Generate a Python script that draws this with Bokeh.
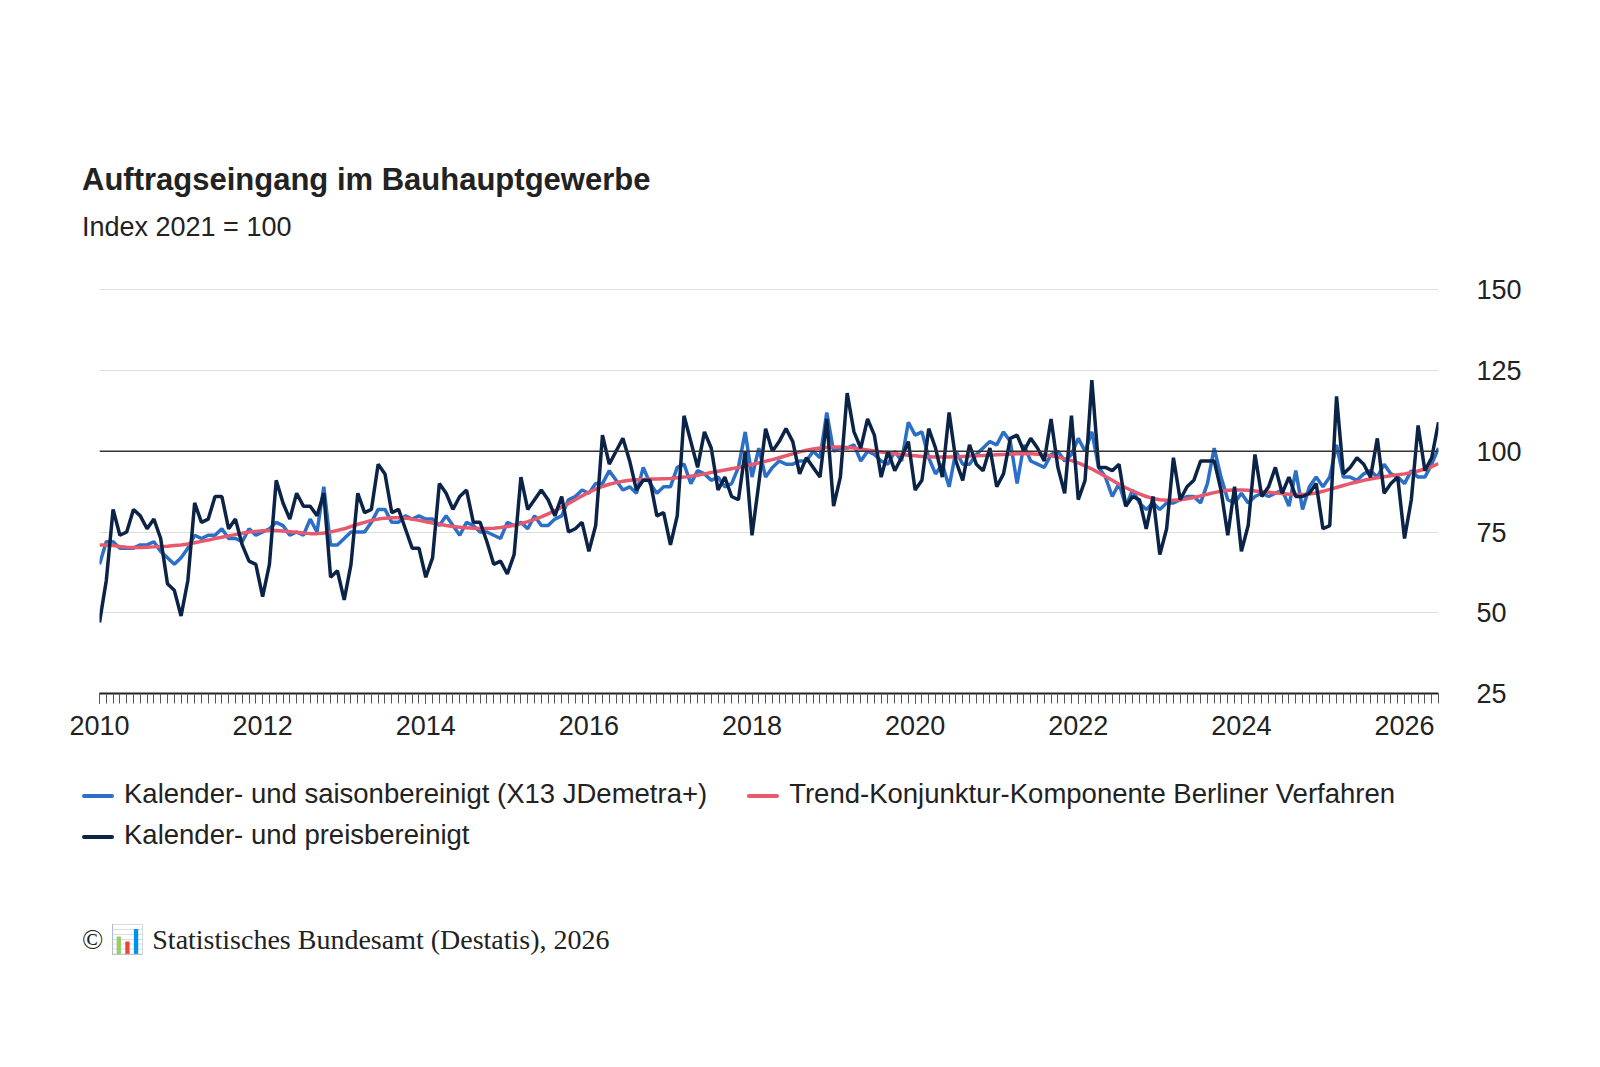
import numpy as np
from bokeh.plotting import figure
from bokeh.layouts import column
from bokeh.models import (ColumnDataSource, Div, FixedTicker, LinearAxis,
                          Span, Range1d, CustomJSTickFormatter)
from bokeh.embed import file_html
from bokeh.resources import INLINE

# monthly values, Jan 2010 .. Jun 2026
preis = [47, 60, 82, 74, 75, 82, 80, 76, 79, 73, 59, 57,
         49, 60, 84, 78, 79, 86, 86, 76, 79, 71, 66, 65,
         55, 65, 91, 84, 79, 87, 83, 83, 80, 87, 61, 63,
         54, 65, 87, 81, 82, 96, 93, 81, 82, 76, 70, 70,
         61, 67, 90, 87, 82, 86, 88, 78, 78, 72, 65, 66,
         62, 68, 92, 82, 85, 88, 85, 80, 86, 75, 76, 78,
         69, 77, 105, 96, 100, 104, 97, 88, 91, 91, 80, 81,
         71, 80, 111, 103, 95, 106, 101, 88, 92, 86, 85, 100,
         74, 90, 107, 100, 103, 107, 103, 93, 98, 95, 92, 110,
         83, 92, 118, 106, 101, 110, 105, 92, 100, 94, 98, 103,
         88, 91, 107, 101, 92, 112, 97, 91, 102, 96, 94, 101,
         89, 93, 104, 105, 100, 104, 101, 97, 110, 95, 87, 111,
         85, 91, 122, 95, 95, 94, 96, 83, 86, 85, 76, 86,
         68, 76, 98, 85, 89, 91, 97, 97, 97, 88, 74, 89,
         69, 77, 99, 86, 89, 95, 87, 92, 86, 86, 87, 90,
         76, 77, 117, 93, 95, 98, 96, 92, 104, 87, 90, 92,
         73, 85, 108, 94, 98, 109]

saison = [65, 72, 72, 70, 70, 70, 71, 71, 72, 69, 67, 65,
          67, 70, 74, 73, 74, 74, 76, 73, 73, 72, 76, 74,
          75, 76, 78, 77, 74, 75, 74, 79, 75, 89, 71, 71,
          73, 75, 75, 75, 78, 82, 82, 78, 78, 80, 79, 80,
          79, 79, 77, 80, 77, 74, 78, 77, 75, 75, 74, 73,
          78, 77, 78, 76, 80, 77, 77, 79, 80, 85, 86, 88,
          87, 90, 90, 94, 91, 88, 89, 87, 95, 90, 87, 89,
          89, 95, 96, 90, 94, 93, 91, 92, 89, 90, 95, 106,
          92, 101, 92, 95, 97, 96, 96, 97, 97, 100, 98, 112,
          100, 101, 101, 102, 97, 100, 99, 97, 96, 100, 97, 109,
          105, 106, 98, 93, 96, 89, 100, 96, 96, 99, 101, 103,
          102, 106, 103, 90, 102, 97, 96, 95, 99, 100, 97, 99,
          104, 100, 106, 95, 92, 86, 90, 83, 88, 84, 82, 84,
          82, 84, 84, 85, 86, 86, 84, 90, 101, 92, 85, 84,
          87, 84, 86, 87, 86, 87, 88, 83, 94, 82, 89, 92,
          89, 92, 102, 92, 92, 91, 93, 94, 92, 96, 93, 92,
          90, 94, 92, 92, 96, 101]

trend = [71, 71, 70.8, 70.5, 70.3, 70.2, 70.2, 70.3, 70.4, 70.5, 70.6, 70.8,
         71, 71.3, 71.7, 72.1, 72.5, 73, 73.4, 73.8, 74.2, 74.6, 75, 75.2,
         75.4, 75.5, 75.5, 75.3, 75.1, 74.9, 74.7, 74.5, 74.5, 74.7, 75, 75.5,
         76, 76.7, 77.4, 78, 78.6, 79, 79.3, 79.4, 79.4, 79.3, 79, 78.6,
         78.2, 77.8, 77.4, 77, 76.7, 76.5, 76.3, 76.2, 76.1, 76.1, 76.2, 76.4,
         76.7, 77.1, 77.6, 78.2, 78.9, 79.7, 80.6, 81.6, 82.7, 83.8, 85, 86.2,
         87.3, 88.3, 89.1, 89.8, 90.3, 90.7, 91, 91.2, 91.3, 91.4, 91.4, 91.5,
         91.6, 91.8, 92, 92.3, 92.6, 93, 93.4, 93.8, 94.2, 94.6, 95, 95.4,
         95.9, 96.4, 96.9, 97.4, 98, 98.6, 99.2, 99.8, 100.3, 100.7, 101, 101.2,
         101.3, 101.3, 101.2, 101, 100.7, 100.4, 100.1, 99.8, 99.5, 99.2, 99, 98.8,
         98.6, 98.4, 98.3, 98.2, 98.2, 98.2, 98.3, 98.4, 98.5, 98.6, 98.7, 98.8,
         98.9, 99, 99.1, 99.2, 99.2, 99.2, 99.1, 98.9, 98.6, 98.2, 97.7, 97.1,
         96.4, 95.5, 94.5, 93.4, 92.2, 91, 89.8, 88.7, 87.7, 86.8, 86, 85.4,
         85, 84.8, 84.8, 85, 85.3, 85.7, 86.2, 86.7, 87.2, 87.6, 87.9, 88,
         88, 87.9, 87.7, 87.5, 87.3, 87.1, 86.9, 86.7, 86.6, 86.6, 86.8, 87.1,
         87.6, 88.2, 88.8, 89.4, 90, 90.5, 91, 91.4, 91.8, 92.1, 92.4, 92.7,
         93, 93.4, 93.9, 94.5, 95.2, 96.2]

labels = ["Kalender- und saisonbereinigt (X13 JDemetra+)",
          "Trend-Konjunktur-Komponente Berliner Verfahren",
          "Kalender- und preisbereinigt"]
colors = ["#2b6fc6", "#e8596e", "#0c2348"]

x = 2010 + np.arange(len(preis)) / 12.0
src = ColumnDataSource(data=dict(x=x, preis=preis, saison=saison, trend=trend))

y_ticks = [25, 50, 75, 100, 125, 150]
year_ticks = list(range(2010, 2027, 2))
FONT = "Liberation Sans"

W = 1584
p = figure(width=W, height=484, output_backend="svg", toolbar_location=None,
           x_range=Range1d(2010, x[-1]), y_range=Range1d(25, 150.4),
           y_axis_location=None, min_border_left=99, min_border_right=146,
           min_border_top=35, min_border_bottom=35)
p.outline_line_color = None

yax = LinearAxis(ticker=FixedTicker(ticks=y_ticks))
yax.axis_line_color = None
yax.major_tick_line_color = None
yax.minor_tick_line_color = None
yax.major_label_text_font = FONT
yax.major_label_text_font_size = "27px"
yax.major_label_text_color = "#222222"
yax.major_label_standoff = 32
p.add_layout(yax, "right")

p.xaxis.ticker = FixedTicker(ticks=year_ticks, minor_ticks=list(x))
p.xaxis.formatter = CustomJSTickFormatter(code="return String(Math.round(tick));")
p.xaxis.axis_line_color = "#222222"
p.xaxis.axis_line_width = 2
p.xaxis.major_tick_line_color = "#222222"
p.xaxis.major_tick_in = 0
p.xaxis.major_tick_out = 10
p.xaxis.minor_tick_line_color = "#555555"
p.xaxis.minor_tick_in = 0
p.xaxis.minor_tick_out = 10
p.xaxis.major_label_standoff = 12
p.xaxis.major_label_text_font = FONT
p.xaxis.major_label_text_font_size = "27px"
p.xaxis.major_label_text_color = "#222222"

p.xgrid.grid_line_color = None
p.ygrid.ticker = FixedTicker(ticks=y_ticks)
p.ygrid.grid_line_color = "#dddddd"
p.add_layout(Span(location=100, dimension="width", line_color="#333333", line_width=1.5))

p.line("x", "saison", source=src, line_color=colors[0], line_width=3.5)
p.line("x", "trend", source=src, line_color=colors[1], line_width=3.5)
p.line("x", "preis", source=src, line_color=colors[2], line_width=3.5)


def item(label, color):
    return ('<span style="display:inline-block;width:32px;height:4px;background:%s;'
            'vertical-align:middle;margin-right:10px;border-radius:2px"></span>%s' % (color, label))


legend_html = ('<div style="line-height:41px">' + item(labels[0], colors[0]) +
               '<span style="display:inline-block;width:40px"></span>' + item(labels[1], colors[1]) +
               '<br>' + item(labels[2], colors[2]) + '</div>')

style = {"font-family": FONT, "color": "#222222"}
title = Div(text="Auftragseingang im Bauhauptgewerbe", width=W, height=40,
            styles=dict(style, **{"font-size": "31px", "font-weight": "bold", "margin-left": "82px",
                                  "margin-top": "158px"}))
sub = Div(text="Index 2021 = 100", width=W, height=40,
          styles=dict(style, **{"font-size": "27px", "margin-left": "82px"}))
leg = Div(text=legend_html, width=W, height=90,
          styles=dict(style, **{"font-size": "27.5px", "margin-left": "82px", "margin-top": "36px"}))
foot = Div(text="© 📊 Statistisches Bundesamt (Destatis), 2026", width=W, height=40,
           styles={"font-family": "Liberation Serif", "font-size": "28px", "color": "#222222",
                   "margin-left": "82px", "margin-top": "52px"})

layout = column(title, sub, p, leg, foot)
open("out.html", "w").write(file_html(layout, INLINE))
